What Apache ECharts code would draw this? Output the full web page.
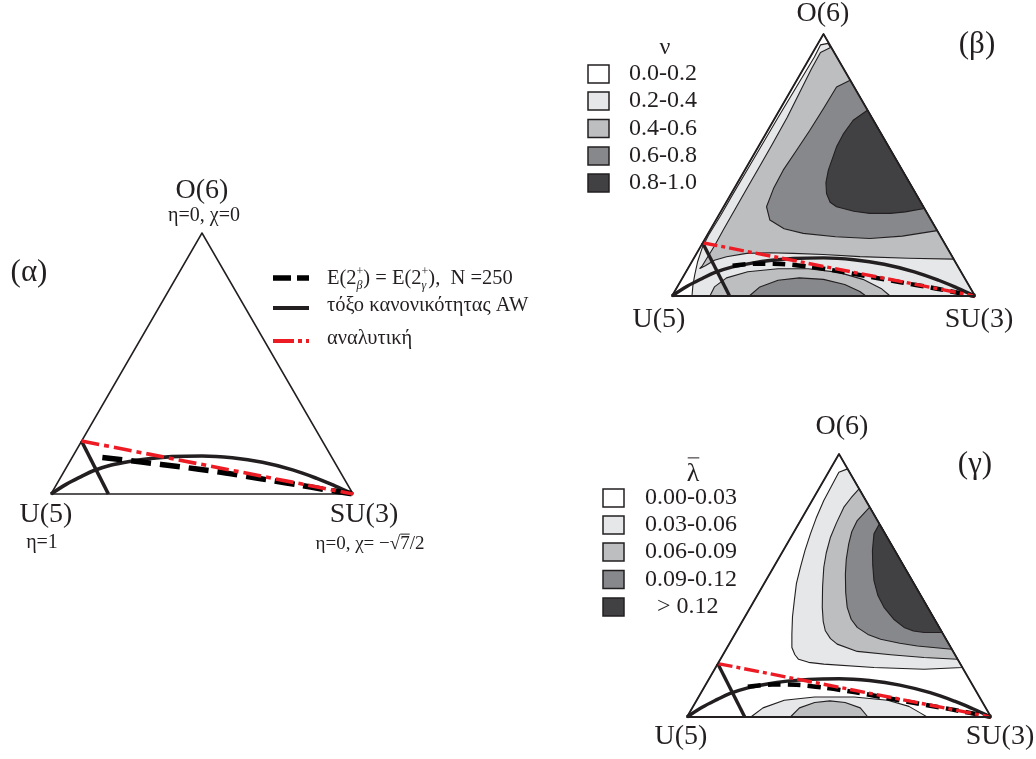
<!DOCTYPE html>
<html>
<head>
<meta charset="utf-8">
<script src="https://cdn.jsdelivr.net/npm/echarts@6/dist/echarts.min.js"></script>
<style>
  html, body { margin: 0; padding: 0; background: #ffffff; }
  #chart { width: 1036px; height: 759px; }
</style>
</head>
<body>
<div id="chart"></div>
<script>
// Casten triangle coordinates: U(5) = (0,0), SU(3) = (1,0), O(6) = (0.5, 0.866)
const triangle = [[0, 0], [1, 0], [0.5, 0.866]];

// Alhassid–Whelan arc of regularity and its straight branch
const awArc = [[0, 0], [0.05, 0.032], [0.1, 0.058], [0.14, 0.077], [0.2, 0.096], [0.26, 0.108],
  [0.33, 0.118], [0.4, 0.124], [0.5, 0.126], [0.6, 0.12], [0.7, 0.105], [0.8, 0.08],
  [0.88, 0.052], [0.94, 0.027], [1, 0]];
const awChord = [[0.101, 0.176], [0.19, 0]];

// Analytic degeneracy line
const analytic = [[0.101, 0.176], [1, 0]];

// E(2β+) = E(2γ+) degeneracy, N = 250 (panel α) and for panels β, γ
const degenN250 = [[0.17, 0.121], [0.3, 0.106], [0.43, 0.09], [0.55, 0.074], [0.65, 0.058],
  [0.74, 0.043], [0.82, 0.03], [0.9, 0.016], [1, 0]];
const degenBG = [[0.2, 0.1], [0.28, 0.107], [0.36, 0.106], [0.45, 0.097], [0.55, 0.082],
  [0.65, 0.064], [0.75, 0.046], [0.87, 0.025], [1, 0]];

// ν contour bands (panel β)
const nuBand02 = [[0.515, 0.835], [0.49, 0.83], [0.47, 0.79], [0.41, 0.69], [0.35, 0.59], [0.3, 0.505],
  [0.25, 0.42], [0.2, 0.335], [0.16, 0.265], [0.12, 0.2], [0.1, 0.16], [0.085, 0.115], [0.075, 0.07],
  [0.069, 0.035], [0.066, 0], [1, 0]];
const nuBand04 = [[0.525, 0.822], [0.49, 0.805], [0.46, 0.75], [0.42, 0.67], [0.38, 0.59], [0.33, 0.5],
  [0.29, 0.43], [0.25, 0.36], [0.21, 0.29], [0.17, 0.22], [0.14, 0.165], [0.115, 0.125], [0.1, 0.1],
  [0.092, 0.091], [0.11, 0.1], [0.14, 0.118], [0.18, 0.13], [0.246, 0.141], [0.32, 0.143],
  [0.4, 0.141], [0.5, 0.137], [0.62, 0.13], [0.78, 0.125], [0.93, 0.122]];
const nuBand06 = [[0.588, 0.713], [0.543, 0.691], [0.5, 0.62], [0.455, 0.548], [0.41, 0.48], [0.367, 0.416],
  [0.335, 0.355], [0.312, 0.295], [0.323, 0.251], [0.37, 0.222], [0.433, 0.207], [0.54, 0.196],
  [0.653, 0.19], [0.76, 0.198], [0.875, 0.216]];
const nuBand08 = [[0.645, 0.614], [0.598, 0.581], [0.565, 0.535], [0.543, 0.493], [0.516, 0.416],
  [0.508, 0.375], [0.51, 0.339], [0.522, 0.31], [0.543, 0.295], [0.6, 0.28], [0.653, 0.273],
  [0.72, 0.273], [0.77, 0.278], [0.833, 0.289]];
const nuDome04 = [[0.125, 0], [0.14, 0.03], [0.18, 0.06], [0.25, 0.08], [0.35, 0.09], [0.45, 0.09],
  [0.55, 0.078], [0.63, 0.055], [0.69, 0.025], [0.72, 0]];
const nuDome06 = [[0.255, 0], [0.29, 0.03], [0.35, 0.052], [0.42, 0.06], [0.5, 0.055], [0.57, 0.038],
  [0.62, 0.015], [0.64, 0]];

// λ̄ contour bands (panel γ)
const lamBand03 = [[0.528, 0.817], [0.4995, 0.806], [0.475, 0.76], [0.45, 0.713], [0.425, 0.655],
  [0.406, 0.603], [0.388, 0.548], [0.373, 0.493], [0.36, 0.44], [0.353, 0.383], [0.347, 0.33],
  [0.345, 0.273], [0.345, 0.229], [0.355, 0.205], [0.367, 0.19], [0.4, 0.18], [0.45, 0.174],
  [0.615, 0.163], [0.78, 0.157], [0.906, 0.163]];
const lamBand06 = [[0.566, 0.751], [0.54, 0.722], [0.516, 0.691], [0.492, 0.64], [0.472, 0.592],
  [0.458, 0.54], [0.45, 0.493], [0.446, 0.43], [0.445, 0.361], [0.448, 0.315], [0.455, 0.284],
  [0.472, 0.258], [0.494, 0.24], [0.56, 0.216], [0.67, 0.205], [0.78, 0.196], [0.89, 0.19]];
const lamBand09 = [[0.601, 0.691], [0.56, 0.647], [0.542, 0.61], [0.532, 0.57], [0.524, 0.52],
  [0.521, 0.471], [0.522, 0.41], [0.527, 0.361], [0.54, 0.322], [0.56, 0.295], [0.595, 0.272],
  [0.637, 0.256], [0.7, 0.243], [0.758, 0.234], [0.871, 0.223]];
const lamBand12 = [[0.633, 0.636], [0.615, 0.603], [0.61, 0.548], [0.611, 0.5], [0.615, 0.449],
  [0.628, 0.4], [0.648, 0.361], [0.68, 0.322], [0.714, 0.295], [0.745, 0.283], [0.78, 0.278],
  [0.84, 0.278]];
const lamDome03 = [[0.21, 0], [0.25, 0.03], [0.32, 0.055], [0.42, 0.066], [0.55, 0.066], [0.66, 0.055],
  [0.73, 0.035], [0.77, 0.012], [0.79, 0]];
const lamDome06 = [[0.34, 0], [0.37, 0.03], [0.42, 0.048], [0.47, 0.053], [0.52, 0.048], [0.57, 0.03],
  [0.595, 0]];

// Legend labels
const nuLabels = ['0.0-0.2', '0.2-0.4', '0.4-0.6', '0.6-0.8', '0.8-1.0'];
const lamLabels = ['0.00-0.03', '0.03-0.06', '0.06-0.09', '0.09-0.12', '> 0.12'];

const SHADES = ['#ffffff', '#e6e7e8', '#bcbec0', '#87888b', '#414042'];
const INK = '#231f20';
const RED = '#ed1c24';
const FONT = '"Liberation Serif", "Times New Roman", serif';

// ---- series helpers ----
function polygon(points, gi, fill, z, lw, noStroke) {
  return {
    type: 'custom', xAxisIndex: gi, yAxisIndex: gi, z: z, clip: false, silent: true,
    data: points,
    renderItem: function (params, api) {
      if (params.dataIndex !== 0) return null;
      return {
        type: 'polygon',
        shape: { points: points.map(function (p) { return api.coord(p); }) },
        style: { fill: fill, stroke: noStroke ? null : INK, lineWidth: lw || 1.1, lineJoin: 'round' }
      };
    }
  };
}
function curve(points, gi, color, width, dash, z, smooth) {
  return {
    type: 'line', xAxisIndex: gi, yAxisIndex: gi, z: z, silent: true,
    data: points, showSymbol: false, symbol: 'none', smooth: smooth || 0,
    lineStyle: { color: color, width: width, type: dash || 'solid', cap: 'butt' }
  };
}

const grids = [
  { left: 51, top: 233, width: 302, height: 261 },
  { left: 672, top: 34, width: 303, height: 262 },
  { left: 687, top: 454, width: 304, height: 263 }
];
const xAxes = grids.map(function (g, i) { return { gridIndex: i, type: 'value', min: 0, max: 1, show: false }; });
const yAxes = grids.map(function (g, i) { return { gridIndex: i, type: 'value', min: 0, max: 0.866, show: false }; });

const series = [];
// panel α
series.push(polygon(triangle, 0, '#ffffff', 1, 1.5));
series.push(curve(awArc, 0, INK, 3.6, 'solid', 10, 0.35));
series.push(curve(awChord, 0, INK, 3.6, 'solid', 10));
series.push(curve(degenN250, 0, '#000000', 5.5, [20, 9], 11, 0.3));
series.push(curve(analytic, 0, RED, 3.6, [18, 5, 5, 5], 12));
// panel β
series.push(polygon(triangle, 1, '#ffffff', 1, 1.1));
series.push(polygon(nuBand02, 1, SHADES[1], 2));
series.push(polygon(nuBand04, 1, SHADES[2], 3));
series.push(polygon(nuBand06, 1, SHADES[3], 4));
series.push(polygon(nuBand08, 1, SHADES[4], 5));
series.push(polygon(nuDome04, 1, SHADES[2], 3));
series.push(polygon(nuDome06, 1, SHADES[3], 4));
series.push(curve(awArc, 1, INK, 3.4, 'solid', 10, 0.35));
series.push(curve(awChord, 1, INK, 3.4, 'solid', 10));
series.push(curve(degenBG, 1, '#000000', 4.5, [13, 7], 11, 0.3));
series.push(curve(analytic, 1, RED, 3.4, [15, 4, 4, 4], 12));
series.push(polygon(triangle, 1, 'none', 20, 1.8));
// panel γ
series.push(polygon(triangle, 2, '#ffffff', 1, 1.1));
series.push(polygon(lamBand03, 2, SHADES[1], 2));
series.push(polygon(lamBand06, 2, SHADES[2], 3));
series.push(polygon(lamBand09, 2, SHADES[3], 4));
series.push(polygon(lamBand12, 2, SHADES[4], 5));
series.push(polygon(lamDome03, 2, SHADES[1], 2));
series.push(polygon(lamDome06, 2, SHADES[2], 3));
series.push(curve(awArc, 2, INK, 3.4, 'solid', 10, 0.35));
series.push(curve(awChord, 2, INK, 3.4, 'solid', 10));
series.push(curve(degenBG, 2, '#000000', 4.5, [13, 7], 11, 0.3));
series.push(curve(analytic, 2, RED, 3.4, [15, 4, 4, 4], 12));
series.push(polygon(triangle, 2, 'none', 20, 1.8));

// ---- text helpers ----
const mctx = document.createElement('canvas').getContext('2d');
function fontOf(size, italic) { return (italic ? 'italic ' : '') + size + 'px ' + FONT; }
function measure(t, size, italic) { mctx.font = fontOf(size, italic); return mctx.measureText(t).width; }
function label(text, x, y, size, align) {
  return { type: 'text', silent: true, z: 100,
    style: { text: text, x: x, y: y, font: fontOf(size), fill: INK, align: align || 'center', verticalAlign: 'middle' } };
}
function hline(x1, x2, y, w, color, dash) {
  return { type: 'line', silent: true, z: 100,
    shape: { x1: x1, y1: y, x2: x2, y2: y },
    style: { stroke: color || INK, lineWidth: w || 1, lineDash: dash || null, lineCap: 'butt' } };
}
// Text made of runs; a run may stack a superscript over a subscript or carry an overline
function runs(x, y, parts, align, out) {
  const widthOf = function (p) {
    if (p.stack) return Math.max.apply(null, p.stack.map(function (s) { return measure(s.t, s.size, s.italic); }));
    return measure(p.t, p.size, p.italic);
  };
  const total = parts.reduce(function (a, p) { return a + widthOf(p); }, 0);
  let cx = align === 'center' ? x - total / 2 : x;
  parts.forEach(function (p) {
    const w = widthOf(p);
    if (p.stack) {
      p.stack.forEach(function (s) {
        out.push({ type: 'text', silent: true, z: 100,
          style: { text: s.t, x: cx, y: y + s.dy, font: fontOf(s.size, s.italic), fill: INK, align: 'left', verticalAlign: 'middle' } });
      });
    } else {
      out.push({ type: 'text', silent: true, z: 100,
        style: { text: p.t, x: cx, y: y, font: fontOf(p.size, p.italic), fill: INK, align: 'left', verticalAlign: 'middle' } });
      if (p.over) out.push(hline(cx + (p.overPad || 0), cx + w, y - p.size * p.over, 1));
    }
    cx += w;
  });
}

const VERTEX = 28;   // vertex names
const TAG = 31;      // panel tags
const KEY = 24;      // legend labels

const graphics = [];
// panel α labels
graphics.push(label('(α)', 29, 273, TAG));
graphics.push(label('O(6)', 202, 191, VERTEX));
graphics.push(label('η=0, χ=0', 204, 216, 20));
graphics.push(label('U(5)', 46, 515, VERTEX));
graphics.push(label('η=1', 42, 543, 20));
graphics.push(label('SU(3)', 364, 515, VERTEX));
runs(370, 544, [
  { t: 'η=0, χ= −', size: 19 },
  { t: '√', size: 19 },
  { t: '7', size: 19, over: 0.52 },
  { t: '/2', size: 19 }
], 'center', graphics);

// panel α legend
graphics.push(hline(273, 309, 278, 5.5, '#000000', [18, 6]));
graphics.push(hline(273, 309, 308, 4, INK));
graphics.push(hline(273, 309, 341, 4, RED, [21, 4, 4, 4]));
runs(327, 279, [
  { t: 'E(2', size: 20.5 },
  { stack: [{ t: '+', size: 12, dy: -7 }, { t: 'β', size: 12, dy: 7, italic: true }] },
  { t: ') = E(2', size: 20.5 },
  { stack: [{ t: '+', size: 12, dy: -7 }, { t: 'γ', size: 12, dy: 7, italic: true }] },
  { t: '),  N =250', size: 20.5 }
], 'left', graphics);
graphics.push(label('τόξο κανονικότητας AW', 327, 306, 20.5, 'left'));
graphics.push(label('αναλυτική', 327, 339, 20.5, 'left'));

// panel β labels and legend
graphics.push(label('O(6)', 823, 14, VERTEX));
graphics.push(label('(β)', 977, 45, TAG));
graphics.push(label('U(5)', 659, 320, VERTEX));
graphics.push(label('SU(3)', 979, 320, VERTEX));
graphics.push(label('ν', 665, 48, KEY));
const nuRows = [74, 101, 128.5, 156, 183];
nuLabels.forEach(function (t, i) {
  graphics.push({ type: 'rect', silent: true, z: 100,
    shape: { x: 588, y: nuRows[i] - 9, width: 21, height: 18 },
    style: { fill: SHADES[i], stroke: INK, lineWidth: 1.5 } });
  graphics.push(label(t, 629, nuRows[i], KEY, 'left'));
});

// panel γ labels and legend
graphics.push(label('O(6)', 842, 427, VERTEX));
graphics.push(label('(γ)', 975, 465, TAG));
graphics.push(label('U(5)', 681, 737, VERTEX));
graphics.push(label('SU(3)', 1000, 737, VERTEX));
runs(693, 474, [{ t: 'λ', size: 26, over: 0.62, overPad: 1 }], 'center', graphics);
const lamRows = [498, 525, 552, 579.5, 607];
lamLabels.forEach(function (t, i) {
  graphics.push({ type: 'rect', silent: true, z: 100,
    shape: { x: 603, y: lamRows[i] - 9, width: 21, height: 18 },
    style: { fill: SHADES[i], stroke: INK, lineWidth: 1.5 } });
  graphics.push(label(t, i === 4 ? 657 : 645, lamRows[i], KEY, 'left'));
});

const chart = echarts.init(document.getElementById('chart'), null, { renderer: 'canvas' });
chart.setOption({
  animation: false,
  backgroundColor: '#ffffff',
  grid: grids,
  xAxis: xAxes,
  yAxis: yAxes,
  series: series,
  graphic: { elements: graphics }
});
</script>
</body>
</html>
